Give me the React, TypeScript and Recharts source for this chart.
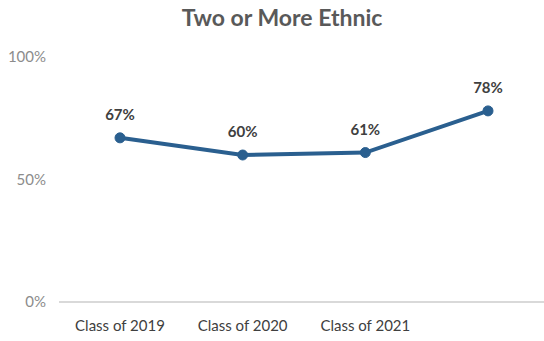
import { LineChart, Line, XAxis, YAxis, LabelList } from "recharts";

const classes = ["Class of 2019", "Class of 2020", "Class of 2021", ""];
const rates = [67, 60, 61, 78];
const yTicks = [0, 50, 100];

const data = classes.map((name, i) => ({ name, rate: rates[i] }));

const font = "Lato, 'Open Sans', sans-serif";

const App = () => {
  return (
    <div
      style={{
        position: "absolute",
        left: 0,
        top: 0,
        width: 544,
        height: 341,
        overflow: "hidden",
        background: "#fff",
        fontFamily: font,
      }}
    >
      <div
        style={{
          position: "absolute",
          left: 282,
          top: 3,
          transform: "translateX(-50%)",
          fontSize: 23,
          fontWeight: 700,
          color: "#595959",
          whiteSpace: "nowrap",
        }}
      >
        Two or More Ethnic
      </div>
      <LineChart
        width={560}
        height={341}
        data={data}
        margin={{ top: 57, right: 11, left: 0, bottom: 9 }}
      >
        <XAxis
          dataKey="name"
          height={30}
          padding={{ left: 61, right: 61 }}
          axisLine={{ stroke: "#d9d9d9", strokeWidth: 2 }}
          tickLine={false}
          tickMargin={12}
          tick={{ fill: "#404040", fontSize: 15, fontFamily: font }}
          interval={0}
        />
        <YAxis
          domain={[0, 100]}
          ticks={yTicks}
          width={59}
          axisLine={false}
          tickLine={false}
          tickMargin={7}
          tickFormatter={(v: number) => `${v}%`}
          tick={{ fill: "#8c8c8c", fontSize: 15, fontFamily: font }}
        />
        <Line
          type="linear"
          dataKey="rate"
          stroke="#2a5f8f"
          strokeWidth={4}
          dot={{ r: 5, fill: "#2a5f8f", stroke: "#2a5f8f", strokeWidth: 1 }}
          isAnimationActive={false}
        >
          <LabelList
            dataKey="rate"
            position="top"
            offset={18}
            formatter={(v: number) => `${v}%`}
            style={{ fill: "#404040", fontSize: 15, fontWeight: 700, fontFamily: font }}
          />
        </Line>
      </LineChart>
    </div>
  );
};

export default App;
